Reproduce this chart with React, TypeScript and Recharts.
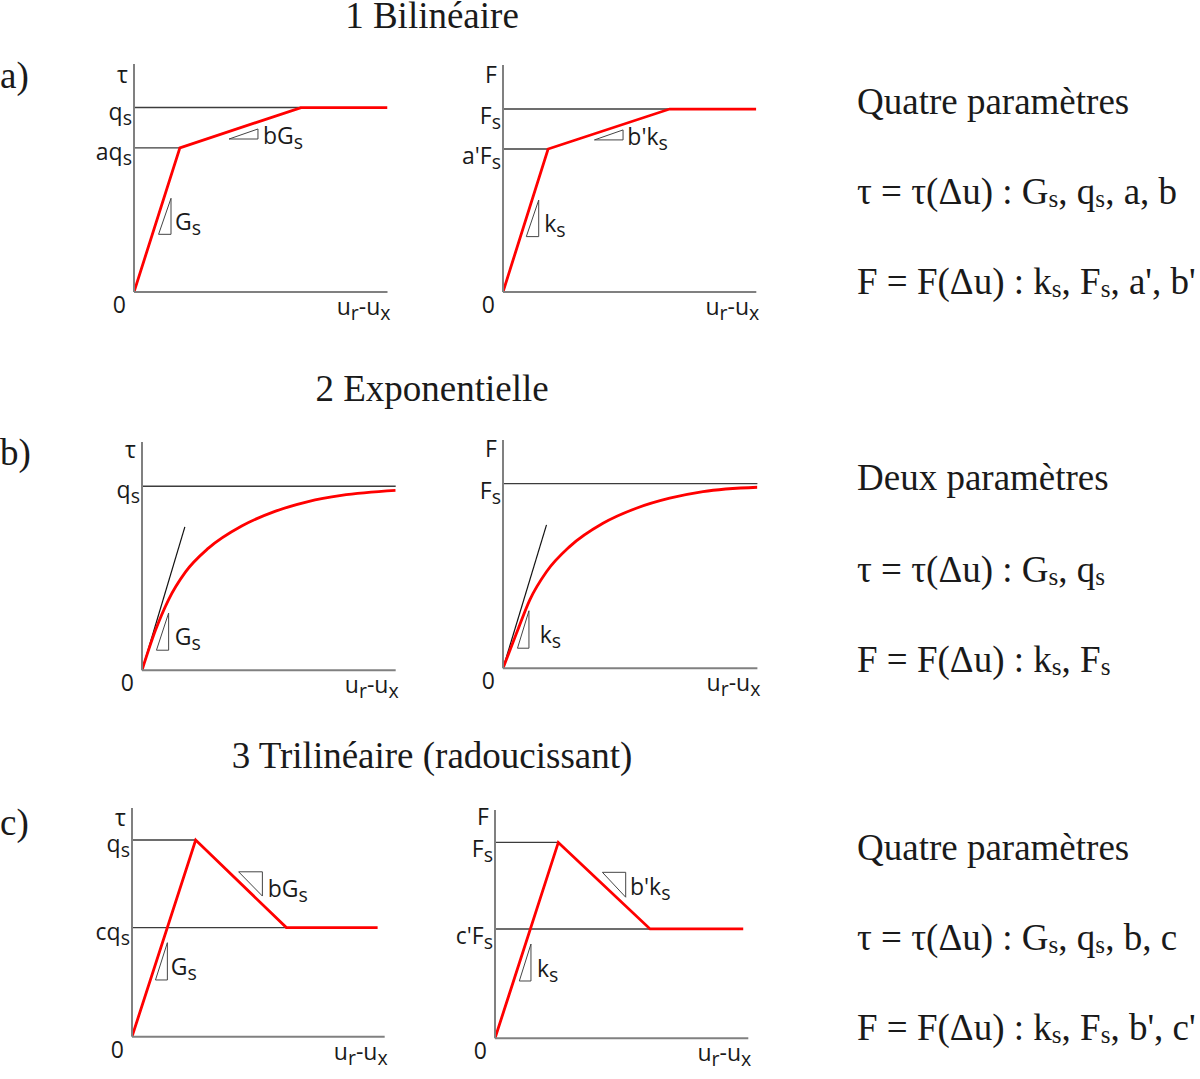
import React from 'react';
import { LineChart, Line, XAxis, YAxis, ReferenceLine, ReferenceDot } from 'recharts';

const SANS = '"Open Sans", Lato, sans-serif';
const SERIF = '"Liberation Serif", "Times New Roman", serif';
const RED = '#ff0000';
const AXIS_GRAY = '#808080';
const GUIDE_GRAY = '#3c3c3c';
const INK = '#1a1a1a';

// every value below is in % of the axis length (x: u_r - u_x, y: tau or F)

// 1 Bilinéaire
const biTauX = [0, 18.1, 65.9, 100];
const biTauY = [0, 63.2, 80.9, 80.9];
const biTauLevels = [80.9, 63.2];
const biTauLevelEnds = [65.9, 18.1];
const biFX = [0, 17.8, 65.8, 100];
const biFY = [0, 63.0, 80.6, 80.6];
const biFLevels = [80.6, 63.0];
const biFLevelEnds = [65.8, 17.8];

// 2 Exponentielle
const expTauX = [0, 5.3, 10.5, 17.1, 26.2, 39.3, 52.4, 65.5, 78.6, 100];
const expTauY = [0, 17.5, 31.0, 43.0, 53.5, 63.2, 69.6, 73.9, 76.6, 78.8];
const expTauLevels = [80.6];
const expTauTangentX = [0, 16.9];
const expTauTangentY = [0, 62.8];
const expFX = [0, 5.3, 10.5, 17.1, 26.2, 39.3, 52.4, 65.5, 78.6, 100];
const expFY = [0, 15.3, 29.9, 42.3, 53.3, 63.5, 70.1, 74.5, 77.4, 79.3];
const expFLevels = [80.9];
const expFTangentX = [0, 17.1];
const expFTangentY = [0, 62.8];

// 3 Trilinéaire (radoucissant)
const triTauX = [0, 25.2, 61.1, 97.2];
const triTauY = [0, 86.0, 47.7, 47.7];
const triTauLevels = [86.0, 47.7];
const triTauLevelEnds = [25.2, 61.1];
const triFX = [0, 25.0, 61.2, 98.0];
const triFY = [0, 85.8, 47.9, 47.9];
const triFLevels = [85.8, 47.9];
const triFLevelEnds = [25.0, 61.2];

// slope triangles
const biTauTriGX = [9.7, 14.6, 14.6, 9.7];
const biTauTriGY = [25.3, 25.3, 41.1, 25.3];
const biTauTriBX = [37.5, 48.9, 48.9, 37.5];
const biTauTriBY = [67.1, 67.1, 71.5, 67.1];
const biFTriKX = [9.2, 14.1, 14.1, 9.2];
const biFTriKY = [24.4, 24.4, 40.5, 24.4];
const biFTriBX = [36.1, 47.4, 47.4, 36.1];
const biFTriBY = [67.0, 67.0, 71.4, 67.0];
const expTauTriGX = [5.7, 10.5, 10.5, 5.7];
const expTauTriGY = [8.8, 8.8, 25.1, 8.8];
const expFTriKX = [5.7, 10.2, 10.2, 5.7];
const expFTriKY = [8.8, 8.8, 25.2, 8.8];
const triTauTriGX = [9.3, 14.0, 14.0, 9.3];
const triTauTriGY = [24.8, 24.8, 41.1, 24.8];
const triTauTriBX = [42.2, 51.6, 51.6, 42.2];
const triTauTriBY = [72.1, 72.1, 61.5, 72.1];
const triFTriKX = [9.6, 14.2, 14.2, 9.6];
const triFTriKY = [25.1, 25.1, 41.3, 25.1];
const triFTriBX = [42.4, 51.6, 51.6, 42.4];
const triFTriBY = [72.7, 72.7, 61.8, 72.7];

const zip = (xs: number[], ys: number[]) => xs.map((x, i) => ({ x, y: ys[i] }));

type Frame = {
  id: string;
  x0: number; top: number; w: number; h: number;
  axisName: string;
  nameDy: number;
  curve: { x: number; y: number }[];
  smooth?: boolean;
  levels: number[];
  levelEnds: number[];
  levelLabels: string[];
  tangent?: { x: number; y: number }[];
  triangles: { x: number; y: number }[][];
  notes: { text: string; x: number; y: number }[];
};

const frames: Frame[] = [
  {
    id: 'a1', x0: 134, top: 64, w: 253.5, h: 228, axisName: 'τ', nameDy: 19,
    curve: zip(biTauX, biTauY), levels: biTauLevels, levelEnds: biTauLevelEnds, levelLabels: ['q_s', 'aq_s'],
    triangles: [zip(biTauTriGX, biTauTriGY), zip(biTauTriBX, biTauTriBY)],
    notes: [{ text: 'G_s', x: 16.2, y: 31.6 }, { text: 'bG_s', x: 50.9, y: 69.3 }],
  },
  {
    id: 'a2', x0: 502.7, top: 65, w: 253.3, h: 227, axisName: 'F', nameDy: 18,
    curve: zip(biFX, biFY), levels: biFLevels, levelEnds: biFLevelEnds, levelLabels: ['F_s', "a'F_s"],
    triangles: [zip(biFTriKX, biFTriKY), zip(biFTriBX, biFTriBY)],
    notes: [{ text: 'k_s', x: 16.3, y: 30.8 }, { text: "b'k_s", x: 49.1, y: 69.2 }],
  },
  {
    id: 'b1', x0: 142.3, top: 441.7, w: 253.7, h: 228.3, axisName: 'τ', nameDy: 16, smooth: true,
    curve: zip(expTauX, expTauY), levels: expTauLevels, levelEnds: [100], levelLabels: ['q_s'],
    tangent: zip(expTauTangentX, expTauTangentY),
    triangles: [zip(expTauTriGX, expTauTriGY)],
    notes: [{ text: 'G_s', x: 12.9, y: 15.3 }],
  },
  {
    id: 'b2', x0: 503.3, top: 440, w: 254.4, h: 228.3, axisName: 'F', nameDy: 17, smooth: true,
    curve: zip(expFX, expFY), levels: expFLevels, levelEnds: [100], levelLabels: ['F_s'],
    tangent: zip(expFTangentX, expFTangentY),
    triangles: [zip(expFTriKX, expFTriKY)],
    notes: [{ text: 'k_s', x: 14.4, y: 15.5 }],
  },
  {
    id: 'c1', x0: 132.3, top: 808, w: 252.7, h: 228.7, axisName: 'τ', nameDy: 18,
    curve: zip(triTauX, triTauY), levels: triTauLevels, levelEnds: triTauLevelEnds, levelLabels: ['q_s', 'cq_s'],
    triangles: [zip(triTauTriGX, triTauTriGY), zip(triTauTriBX, triTauTriBY)],
    notes: [{ text: 'G_s', x: 15.3, y: 31.2 }, { text: 'bG_s', x: 53.7, y: 65.5 }],
  },
  {
    id: 'c2', x0: 495, top: 810, w: 253.3, h: 228.3, axisName: 'F', nameDy: 15,
    curve: zip(triFX, triFY), levels: triFLevels, levelEnds: triFLevelEnds, levelLabels: ['F_s', "c'F_s"],
    triangles: [zip(triFTriKX, triFTriKY), zip(triFTriBX, triFTriBY)],
    notes: [{ text: 'k_s', x: 16.6, y: 31.1 }, { text: "b'k_s", x: 53.3, y: 67 }],
  },
];

type RichProps = {
  x: number; y: number; text: string; anchor?: 'start' | 'middle' | 'end';
  size?: number; family?: string; subScale?: number; drop?: number;
};

// "_" marks the next character as a subscript
function Rich({ x, y, text, anchor = 'start', size = 23, family = SANS, subScale = 0.85, drop = 5 }: RichProps) {
  const parts: { t: string; sub: boolean }[] = [];
  for (let i = 0; i < text.length; i++) {
    const ch = text[i];
    if (ch === '_' && i + 1 < text.length) {
      parts.push({ t: text[i + 1], sub: true });
      i++;
      continue;
    }
    const last = parts[parts.length - 1];
    if (last && !last.sub) last.t += ch;
    else parts.push({ t: ch, sub: false });
  }
  let lowered = false;
  return (
    <text x={x} y={y} textAnchor={anchor} fontFamily={family} fontSize={size} fill={INK} style={{ whiteSpace: 'pre' }}>
      {parts.map((p, i) => {
        let dy = 0;
        if (p.sub && !lowered) { dy = drop; lowered = true; }
        else if (!p.sub && lowered) { dy = -drop; lowered = false; }
        return (
          <tspan key={i} dy={dy} fontSize={p.sub ? size * subScale : size}>{p.t}</tspan>
        );
      })}
    </text>
  );
}

const ML = 70, MT = 30, MR = 30, MB = 45;

function Panel({ f }: { f: Frame }) {
  const width = ML + f.w + MR;
  const height = MT + f.h + MB;
  const labelFor = (v: number) => {
    const i = f.levels.indexOf(v);
    return i >= 0 ? f.levelLabels[i] : '';
  };
  return (
    <div style={{ position: 'absolute', left: f.x0 - ML, top: f.top - MT }}>
      <LineChart width={width} height={height} margin={{ top: MT, right: MR, left: 0, bottom: 0 }}>
        <XAxis
          type="number" dataKey="x" domain={[0, 100]} allowDataOverflow
          tick={false} tickLine={false} height={MB}
          axisLine={{ stroke: AXIS_GRAY, strokeWidth: 2 }}
          label={(p: any) => (
            <Rich x={p.viewBox.x + p.viewBox.width + 3} y={p.viewBox.y + 23} anchor="end" text="u_r-u_x" />
          )}
        />
        <YAxis
          type="number" dataKey="y" domain={[0, 100]} allowDataOverflow
          ticks={[0, ...f.levels]} interval={0} tickSize={0} tickMargin={0} tickLine={false} width={ML}
          axisLine={{ stroke: AXIS_GRAY, strokeWidth: 2 }}
          tick={(p: any) => {
            const v = p.payload.value;
            if (v === 0) return <Rich x={p.x - 8} y={p.y + 21} anchor="end" text="0" />;
            const lab = labelFor(v);
            const dy = /[A-Z]/.test(lab) ? 15 : 12;
            return <Rich x={p.x - 2} y={p.y + dy} anchor="end" text={lab} />;
          }}
          label={(p: any) => (
            <Rich x={p.viewBox.x + p.viewBox.width - 6} y={p.viewBox.y + f.nameDy} anchor="end" text={f.axisName} />
          )}
        />
        {f.levels.map((v, i) => (
          <ReferenceLine
            key={`lv${i}`}
            segment={[{ x: 0, y: v }, { x: f.levelEnds[i], y: v }]}
            stroke={GUIDE_GRAY} strokeWidth={1.4} ifOverflow="visible"
          />
        ))}
        {f.tangent && (
          <Line data={f.tangent} dataKey="y" type="linear" stroke="#111" strokeWidth={1.2} dot={false} isAnimationActive={false} />
        )}
        {f.triangles.map((t, i) => (
          <Line key={`tr${i}`} data={t} dataKey="y" type="linear" stroke="#444" strokeWidth={1} dot={false} isAnimationActive={false} />
        ))}
        <Line
          data={f.curve} dataKey="y" type={f.smooth ? 'monotone' : 'linear'}
          stroke={RED} strokeWidth={2.8} dot={false} isAnimationActive={false}
        />
        {f.notes.map((n, i) => (
          <ReferenceDot
            key={`nt${i}`} x={n.x} y={n.y} r={0} ifOverflow="visible"
            shape={(p: any) => <Rich x={p.cx} y={p.cy + 10} text={n.text} />}
          />
        ))}
      </LineChart>
    </div>
  );
}

const titles = [
  { text: '1 Bilinéaire', y: 28 },
  { text: '2 Exponentielle', y: 401 },
  { text: '3 Trilinéaire (radoucissant)', y: 768 },
];

const letters = [
  { text: 'a)', y: 88 },
  { text: 'b)', y: 465 },
  { text: 'c)', y: 835 },
];

const sideNotes = [
  { text: 'Quatre paramètres', y: 114 },
  { text: 'τ = τ(Δu) : G_s, q_s, a, b', y: 204 },
  { text: "F = F(Δu) : k_s, F_s, a', b'", y: 294 },
  { text: 'Deux paramètres', y: 490 },
  { text: 'τ = τ(Δu) : G_s, q_s', y: 582 },
  { text: 'F = F(Δu) : k_s, F_s', y: 672 },
  { text: 'Quatre paramètres', y: 860 },
  { text: 'τ = τ(Δu) : G_s, q_s, b, c', y: 950 },
  { text: "F = F(Δu) : k_s, F_s, b', c'", y: 1040 },
];

export default function App() {
  return (
    <div style={{ position: 'absolute', left: 0, top: 0, width: 1200, height: 1079, background: '#fff', overflow: 'hidden' }}>
      <svg width={1200} height={1079} style={{ position: 'absolute', left: 0, top: 0 }}>
        {titles.map((t) => (
          <Rich key={t.text} x={432} y={t.y} anchor="middle" text={t.text} size={37} family={SERIF} />
        ))}
        {letters.map((t) => (
          <Rich key={t.text} x={0} y={t.y} text={t.text} size={37} family={SERIF} />
        ))}
        {sideNotes.map((t, i) => (
          <Rich key={i} x={857} y={t.y} text={t.text} size={37} family={SERIF} subScale={0.68} drop={3} />
        ))}
      </svg>
      {frames.map((f) => (
        <Panel key={f.id} f={f} />
      ))}
    </div>
  );
}
